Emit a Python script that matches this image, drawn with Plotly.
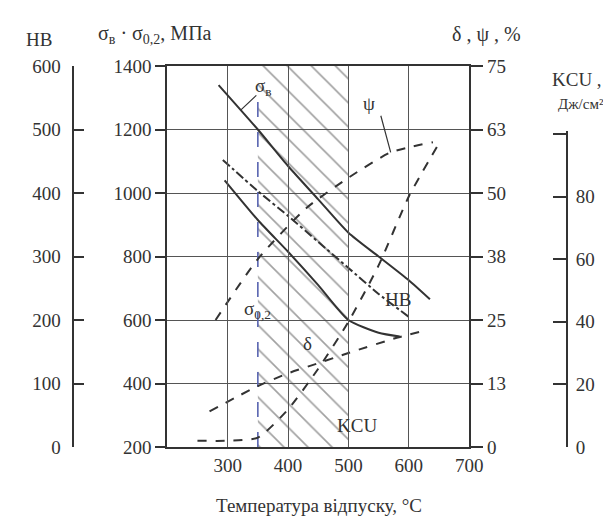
import plotly.graph_objects as go

# ---- data ----
T_SIGMA_B = [285, 350, 400, 450, 500, 550, 600, 635]
SIGMA_B = [1340, 1200, 1085, 980, 875, 800, 725, 665]

T_SIGMA_02 = [295, 350, 400, 450, 500, 550, 585]
SIGMA_02 = [1040, 915, 815, 710, 600, 560, 548]

T_HB = [292, 350, 400, 450, 500, 550, 600]
HB = [452, 403, 364, 323, 282, 241, 205]

T_PSI = [280, 350, 430, 500, 570, 640]
PSI = [25, 37, 47, 53, 58, 60]

T_DELTA = [270, 350, 400, 450, 500, 580, 630]
DELTA = [7, 12, 14.5, 16.5, 18.5, 21.5, 23]

T_KCU = [250, 300, 350, 400, 450, 500, 550, 600, 650]
KCU = [2, 2, 3, 12, 25, 40, 58, 80, 97]

HATCH_T = [350, 500]
MARK_T = 350

X_TICKS = [300, 400, 500, 600, 700]
SIGMA_TICKS = [200, 400, 600, 800, 1000, 1200, 1400]
HB_TICKS = [0, 100, 200, 300, 400, 500, 600]
DP_TICKS = [0, 12.5, 25, 37.5, 50, 62.5, 75]
DP_LABELS = ["0", "13", "25", "38", "50", "63", "75"]
KCU_TICKS = [0, 20, 40, 60, 80, 100]
KCU_LABELS = ["0", "20", "40", "60", "80", ""]

# the figure appears 8px lower in the page than its own top edge
OFF_X, OFF_Y = 0, 8
W, H = 611 - OFF_X, 521 - OFF_Y
L_PX, R_PX, T_PX, B_PX = 163, 472, 66, 447   # reference pixel positions
INK = "#333333"
GRID = "#555555"
FONT = "Liberation Serif"
FS = 19

def fx(px):
    return (px - OFF_X) / W

plot_h = B_PX - T_PX

def fy(py):
    return (B_PX - py) / plot_h

fig = go.Figure()

# hatched tempering range
fig.add_trace(go.Scatter(
    x=[HATCH_T[0], HATCH_T[1], HATCH_T[1], HATCH_T[0], HATCH_T[0]],
    y=[200, 200, 1400, 1400, 200], fill="toself", mode="lines",
    line=dict(width=0), fillcolor="rgba(0,0,0,0)",
    fillpattern=dict(shape="\\", fgcolor="#444444", bgcolor="rgba(0,0,0,0)",
                     size=17, solidity=0.1),
    hoverinfo="skip", showlegend=False))

# blue marker line
fig.add_trace(go.Scatter(x=[MARK_T, MARK_T], y=[200, 1300], mode="lines",
                         line=dict(color="#5864b0", width=1.6, dash="longdash"),
                         showlegend=False))

def line(x, y, axis, dash):
    fig.add_trace(go.Scatter(x=x, y=y, yaxis=axis, mode="lines",
                             line=dict(color=INK, width=2, dash=dash, shape="spline", smoothing=0.6),
                             showlegend=False))

line(T_SIGMA_B, SIGMA_B, "y", "solid")
line(T_SIGMA_02, SIGMA_02, "y", "solid")
line(T_HB, HB, "y2", "dashdot")
line(T_PSI, PSI, "y3", "dash")
line(T_DELTA, DELTA, "y3", "dash")
line(T_KCU, KCU, "y4", "dash")

tickfont = dict(family=FONT, size=FS, color=INK)
KCU_MAX = 100.8
kcu_top = KCU_MAX / 121.7

fig.update_layout(
    width=W, height=H, autosize=False,
    margin=dict(l=0, r=0, t=T_PX - OFF_Y, b=H - (B_PX - OFF_Y)),
    paper_bgcolor="white", plot_bgcolor="rgba(0,0,0,0)",
    xaxis=dict(domain=[fx(L_PX), fx(R_PX)], range=[200, 700], tickvals=X_TICKS,
               showline=True, linecolor=INK, linewidth=2, mirror=True,
               showgrid=True, gridcolor=GRID, gridwidth=1.3, ticks="",
               tickfont=tickfont, zeroline=False),
    yaxis=dict(range=[200, 1400], tickvals=SIGMA_TICKS, showline=True,
               linecolor=INK, linewidth=2, ticks="outside", ticklen=10,
               tickcolor=INK, tickwidth=1.5, showgrid=True, gridcolor=GRID,
               gridwidth=1.3, tickfont=tickfont, zeroline=False),
    yaxis2=dict(overlaying="y", side="left", anchor="free", position=fx(67),
                range=[0, 600], tickvals=HB_TICKS, showline=True, linecolor=INK,
                linewidth=2, ticks="inside", ticklen=10, tickcolor=INK,
                tickwidth=1.5, showgrid=False, tickfont=tickfont,
                ticklabelstandoff=8, zeroline=False),
    yaxis3=dict(overlaying="y", side="right", anchor="x", range=[0, 75],
                tickvals=DP_TICKS, ticktext=DP_LABELS, showline=True,
                linecolor=INK, linewidth=2, ticks="outside", ticklen=12,
                tickcolor=INK, tickwidth=1.5, showgrid=False,
                tickfont=tickfont, zeroline=False),
    yaxis4=dict(domain=[0, kcu_top], side="right", anchor="free",
                position=fx(572), range=[0, KCU_MAX], tickvals=KCU_TICKS,
                ticktext=KCU_LABELS, showline=True, linecolor=INK, linewidth=2,
                ticks="inside", ticklen=13, tickcolor=INK, tickwidth=1.5,
                showgrid=False, tickfont=tickfont, ticklabelstandoff=4,
                zeroline=False),
)

def px_ann(text, x, y, size=FS):
    fig.add_annotation(text=text, x=fx(x), y=fy(y), xref="paper",
                       yref="paper", showarrow=False, xanchor="center",
                       yanchor="middle",
                       font=dict(family=FONT, size=size, color=INK))

px_ann("HB", 32, 40)
px_ann("σ<sub>в</sub> · σ<sub>0,2</sub>, МПа", 150, 34, size=20)
px_ann("δ , ψ , %", 490, 34, size=20)
px_ann("KCU ,", 582, 80)
px_ann("Дж/см²", 586, 104, size=15)
px_ann("Температура відпуску, °С", 318, 505)

def data_ann(text, x, y):
    fig.add_annotation(text=text, x=x, y=y, xref="x", yref="y",
                       showarrow=False, xanchor="center", yanchor="middle",
                       font=dict(family=FONT, size=FS, color=INK))

def leader(x, y, ax, ay, yref="y"):
    fig.add_annotation(x=x, y=y, xref="x", yref=yref, ax=ax, ay=ay,
                       axref="x", ayref=yref, showarrow=True, arrowhead=0,
                       arrowwidth=1.2, arrowcolor=INK, text="")

leader(322, 1262, 350, 1312)
data_ann("σ<sub>в</sub>", 360, 1335)
data_ann("σ<sub>0,2</sub>", 350, 630)
data_ann("δ", 432, 525)
data_ann("HB", 582, 665)
data_ann("KCU", 515, 268)
leader(570, 58, 553, 65.5, yref="y3")
data_ann("ψ", 534, 1283)

fig.write_html("out.html")
